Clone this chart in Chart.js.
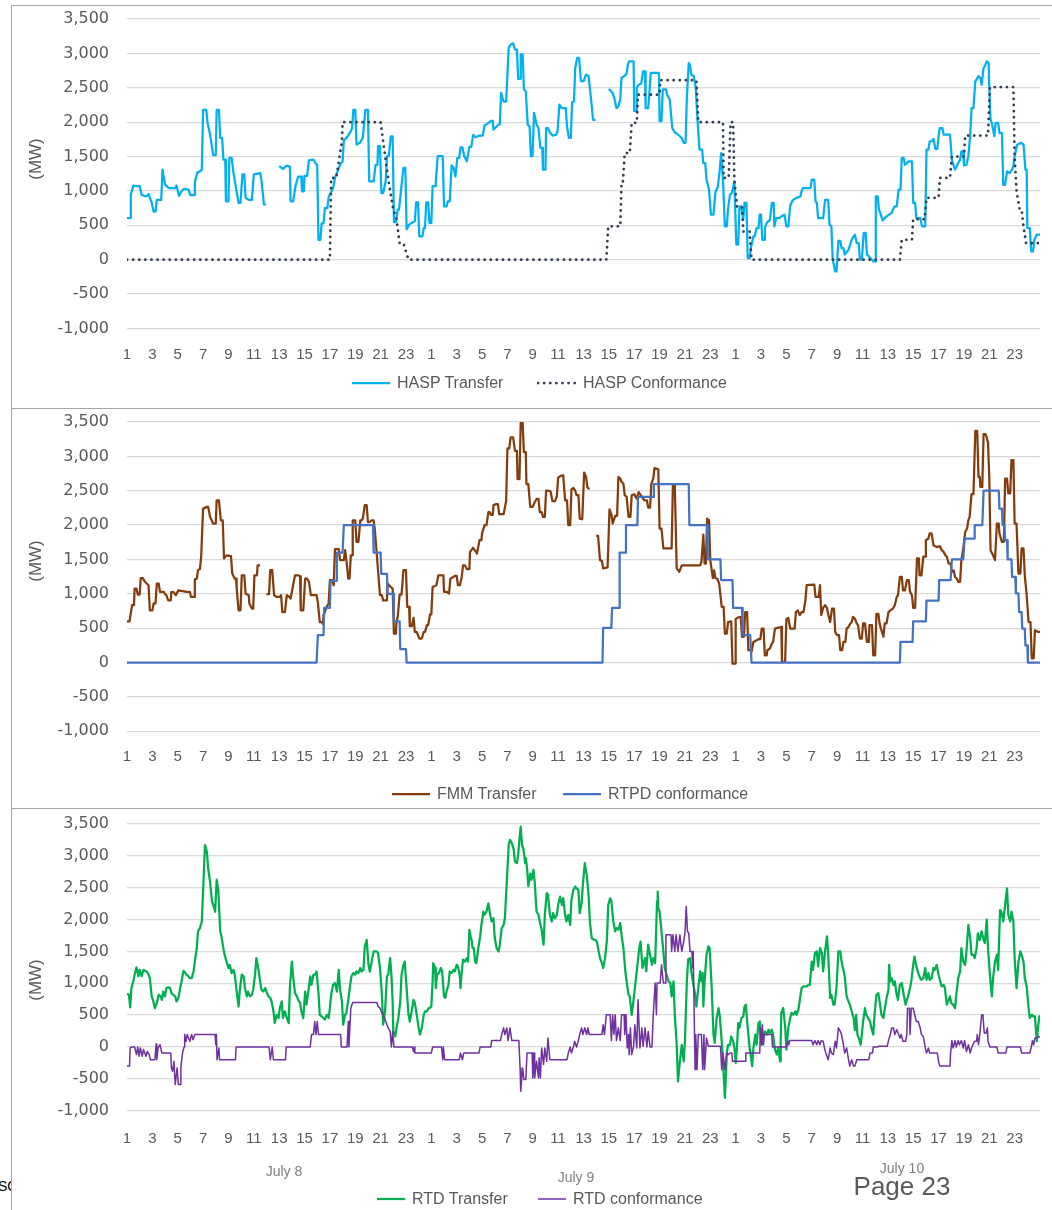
<!DOCTYPE html>
<html>
<head>
<meta charset="utf-8">
<script src="https://cdn.jsdelivr.net/npm/chart.js@4.4.1/dist/chart.umd.min.js"></script>
<style>
  html, body { margin: 0; padding: 0; background: #fff; }
  body { position: relative; width: 1052px; height: 1210px; overflow: hidden; font-family: "Liberation Sans", Arial, sans-serif; }
  .panel { position: absolute; left: 11px; width: 1100px; border: 1.5px solid #a6a6a6; background: #fff; box-sizing: border-box; z-index: 1; }
  canvas { position: absolute; left: 0; z-index: 2; }
  .ytitle { position: absolute; left: 36px; font-size: 17px; color: #595959; transform: translate(-50%, -50%) rotate(-90deg); z-index: 3; white-space: nowrap; }
  .txt { position: absolute; color: #7f7f7f; font-size: 14px; z-index: 3; white-space: nowrap; transform: translateX(-50%); }
  .key { position: absolute; z-index: 3; height: 20px; display: flex; align-items: center; white-space: nowrap; color: #595959; font-size: 16px; transform: translateY(-50%); }
  .key svg { margin-right: 6px; }
</style>
</head>
<body>
<div class="txt" style="top:1178px;color:#000;z-index:0;transform:none;left:-6px">ISO</div>
<div class="panel" style="top:5px;height:404px"></div>
<div class="panel" style="top:408px;height:401px"></div>
<div class="panel" style="top:808px;height:420px"></div>
<canvas id="hasp" width="1052" height="400" style="top:-10.7px"></canvas>
<canvas id="fmm" width="1052" height="400" style="top:391.7px"></canvas>
<canvas id="rtd" width="1052" height="400" style="top:794.3px"></canvas>
<div class="ytitle" style="top:159px">(MW)</div>
<div class="ytitle" style="top:561px">(MW)</div>
<div class="ytitle" style="top:980px">(MW)</div>
<div class="txt" id="d1" style="left:284px;top:1163px"></div>
<div class="txt" id="d2" style="left:576px;top:1169px"></div>
<div class="txt" id="d3" style="left:902px;top:1160px"></div>
<div class="txt" style="left:902px;top:1171px;font-size:26px;color:#595959">Page 23</div>
<div id="keys"></div>
<script>
// hour (0-72 across July 8-10), MW
const dayLabels = ['July 8', 'July 9', 'July 10'];

const haspTransfer = [[0,606],[0.25,606],[0.3,945],[0.5,1077],[0.75,1070],[1.0,1070],[1.15,945],[1.5,920],[1.7,955],[1.95,825],[2.1,700],[2.25,700],[2.35,870],[2.7,870],[2.8,1310],[3.0,1090],[3.3,1040],[3.8,1040],[3.9,1080],[4.1,930],[4.3,995],[4.5,1030],[4.85,1020],[5.0,940],[5.3,940],[5.35,1130],[5.55,1270],[5.75,1285],[5.9,1310],[6.0,2180],[6.25,2180],[6.35,1990],[6.55,1820],[6.8,1520],[7.0,1520],[7.07,2180],[7.25,2180],[7.35,1770],[7.5,1770],[7.6,1455],[7.75,1455],[7.8,850],[8.0,850],[8.07,1480],[8.25,1480],[8.4,1260],[8.6,1040],[8.8,825],[8.95,825],[9.1,1240],[9.25,1240],[9.35,900],[9.6,870],[9.85,870],[10.0,1240],[10.5,1260],[10.6,1165],[10.8,800],[10.95,800],[11.0,null],
  [12.0,1360],[12.3,1320],[12.6,1370],[12.85,1350],[12.9,850],[13.1,850],[13.3,1080],[13.5,1210],[13.75,1210],[13.8,995],[13.95,995],[14.0,1220],[14.2,1220],[14.35,1445],[14.7,1455],[14.9,1395],[15.0,1380],[15.1,290],[15.25,290],[15.35,530],[15.5,530],[15.6,750],[15.8,750],[15.9,910],[16.06,970],[16.25,1040],[16.4,1190],[16.7,1330],[16.85,1400],[17.0,1430],[17.1,1735],[17.3,1770],[17.6,1850],[17.75,1915],[17.85,2180],[18.0,2180],[18.1,1675],[18.4,1705],[18.6,1780],[18.8,2180],[19.0,2180],[19.1,1140],[19.45,1140],[19.6,1380],[19.75,1380],[19.8,1650],[19.95,1650],[20.06,970],[20.2,970],[20.4,1140],[20.5,1505],[20.65,1505],[20.8,1795],[20.95,1795],[21.05,545],[21.2,545],[21.35,730],[21.45,730],[21.6,995],[21.8,1335],[21.95,1335],[22.05,445],[22.25,510],[22.45,535],[22.7,560],[22.8,835],[22.95,835],[23.05,340],[23.3,340],[23.4,460],[23.5,460],[23.6,835],[23.75,835],[23.85,535],[24.0,535],
  [24.1,1070],[24.3,1070],[24.35,1125],[24.5,1505],[24.9,1505],[25.0,775],[25.2,775],[25.3,850],[25.45,850],[25.6,1370],[25.75,1340],[25.9,1210],[26.05,1480],[26.2,1480],[26.3,1635],[26.45,1635],[26.6,1505],[26.8,1430],[27.0,1640],[27.15,1640],[27.3,1815],[27.5,1780],[27.8,1805],[28.05,1805],[28.2,1955],[28.4,1975],[28.75,2020],[28.85,2020],[28.9,1890],[29.3,1965],[29.4,1965],[29.5,2425],[29.7,2300],[29.9,2300],[30.1,3080],[30.25,3130],[30.45,3145],[30.6,3055],[30.75,3055],[30.85,2630],[31.0,2630],[31.05,2985],[31.2,2985],[31.3,2475],[31.45,2450],[31.6,1965],[31.75,1940],[31.85,1505],[31.98,1505],[32.1,2135],[32.3,1965],[32.45,1915],[32.6,1625],[32.75,1625],[32.8,1310],[33.0,1310],[33.05,1915],[33.2,1915],[33.3,1865],[33.55,1805],[33.85,1820],[33.95,1865],[34.1,2255],[34.3,2205],[34.6,2205],[34.7,1940],[34.85,1770],[35.0,1770],[35.1,2290],[35.25,2300],[35.35,2790],[35.5,2935],[35.65,2935],[35.8,2595],[36.0,2595],[36.2,2690],[36.4,2670],[36.6,2330],[36.75,2035],[36.95,2035],[37.0,null],
  [38.0,2485],[38.3,2425],[38.45,2330],[38.6,2205],[38.75,2230],[38.9,2330],[39.0,2645],[39.2,2670],[39.4,2705],[39.5,2840],[39.6,2885],[39.95,2885],[40.0,2160],[40.15,2160],[40.2,2500],[40.35,2545],[40.55,2560],[40.7,2740],[40.85,2740],[40.9,2205],[41.1,2205],[41.2,2425],[41.3,2715],[41.95,2715],[42.0,2015],[42.15,2015],[42.25,2475],[42.5,2475],[42.6,2400],[42.8,2330],[43.0,1915],[43.2,1850],[43.35,1835],[43.6,1795],[43.75,1770],[43.9,1700],[44.05,1700],[44.15,2355],[44.3,2860],[44.4,2830],[44.5,2690],[44.7,2670],[44.85,2500],[45.0,2000],[45.15,1600],[45.35,1600],[45.45,1405],[45.6,1405],[45.7,1165],[45.9,1020],[46.05,655],[46.25,655],[46.4,980],[46.6,1065],[46.75,1310],[46.85,1550],[47.0,1165],[47.15,485],[47.3,485],[47.4,740],[47.55,945],[47.7,970],[47.9,1140],[48.05,220],[48.2,220],[48.3,775],[48.45,775],[48.6,580],[48.7,825],[48.85,825],[48.95,25],[49.1,25],[49.2,170],[49.4,340],[49.5,340],[49.65,460],[49.8,460],[49.9,655],[50.0,655],[50.1,290],[50.25,290],[50.3,460],[50.45,535],[50.7,580],[50.85,825],[51.0,825],[51.05,485],[51.2,605],[51.45,605],[51.6,630],[51.85,655],[52.0,485],[52.15,485],[52.3,785],[52.45,850],[52.55,870],[52.8,900],[53.1,920],[53.2,995],[53.3,1040],[53.9,1040],[54.0,1165],[54.2,1165],[54.3,850],[54.4,825],[54.5,605],[54.9,605],[55.05,870],[55.3,870],[55.4,510],[55.55,485],[55.65,10],[55.85,-170],[55.95,-170],[56.1,275],[56.25,275],[56.35,170],[56.5,170],[56.6,75],[56.9,145],[57.15,290],[57.3,340],[57.4,365],[57.55,240],[57.7,240],[57.8,0],[57.95,0],[58.1,390],[58.25,390],[58.35,75],[58.5,50],[58.6,25],[58.75,0],[58.85,-25],[59.0,-25],[59.05,920],[59.2,920],[59.3,730],[59.4,680],[59.6,570],[59.75,605],[59.9,630],[60.1,655],[60.3,680],[60.4,730],[60.55,775],[60.7,775],[60.85,1020],[61.0,1020],[61.1,1480],[61.25,1480],[61.35,1380],[61.5,1400],[61.6,1430],[61.9,1430],[62.0,825],[62.15,825],[62.25,605],[62.55,605],[62.7,485],[62.95,485],[63.05,1600],[63.2,1600],[63.3,1720],[63.45,1720],[63.6,1755],[63.75,1610],[63.9,1610],[64.0,1795],[64.1,1915],[64.3,1915],[64.4,1820],[64.9,1820],[65.05,1455],[65.2,1360],[65.3,1310],[65.45,1370],[65.55,1405],[65.7,1455],[65.8,1575],[65.95,1575],[66.0,1370],[66.2,1380],[66.35,1505],[66.5,1820],[66.6,2205],[66.75,2205],[66.9,2595],[67.0,2620],[67.15,2670],[67.3,2640],[67.4,2545],[67.55,2790],[67.65,2815],[67.8,2885],[67.95,2860],[68.0,2500],[68.1,2035],[68.2,1990],[68.4,1795],[68.5,1990],[68.7,1990],[68.8,1845],[69.0,1845],[69.1,1090],[69.25,1090],[69.4,1285],[69.6,1260],[69.8,1310],[69.9,1370],[70.0,1505],[70.2,1670],[70.5,1700],[70.7,1675],[70.85,1310],[70.95,1310],[71.0,460],[71.2,460],[71.3,120],[71.45,120],[71.55,290],[71.75,365],[72.0,365]];

const haspConformance = [[0,0],[16.0,0],[16.1,1190],[16.5,1190],[16.95,1720],[17.0,2000],[20.0,2000],[20.5,1310],[20.75,1000],[21.0,730],[21.25,600],[21.5,240],[21.8,240],[22.2,0],[37.8,0],[37.95,485],[38.9,485],[39.0,1115],[39.1,1115],[39.25,1550],[39.65,1550],[39.8,1990],[40.2,1990],[40.3,2400],[42.0,2400],[42.05,2610],[44.9,2610],[45.05,2000],[47.0,2000],[47.05,1190],[47.45,1190],[47.6,2000],[47.8,2000],[47.9,1165],[48.1,775],[48.5,775],[48.6,410],[49.1,410],[49.25,0],[60.95,0],[61.1,290],[61.9,290],[62.0,590],[62.9,590],[63.05,900],[64.0,900],[64.1,1190],[64.9,1190],[65.05,1500],[66.0,1500],[66.1,1805],[67.9,1805],[68.05,2510],[69.9,2510],[70.0,1505],[70.15,995],[70.4,730],[70.55,730],[70.7,485],[70.9,240],[72.0,240]];

const fmmTransfer = [[0,600],[0.2,600],[0.4,835],[0.55,835],[0.6,1075],[0.75,1075],[0.85,990],[1.0,990],[1.08,1230],[1.25,1230],[1.35,1190],[1.55,1150],[1.7,1125],[1.8,760],[2.0,760],[2.1,860],[2.25,860],[2.35,1150],[2.5,1150],[2.6,1030],[2.9,1030],[3.0,995],[3.1,980],[3.25,905],[3.45,905],[3.5,1030],[3.7,1020],[3.85,980],[4.05,1050],[4.7,1030],[4.95,1030],[5.05,955],[5.3,955],[5.35,1210],[5.5,1220],[5.6,1345],[5.75,1360],[5.85,1540],[6.0,2240],[6.3,2265],[6.4,2265],[6.55,2120],[6.8,2020],[7.0,2020],[7.07,2360],[7.25,2360],[7.4,2070],[7.55,2070],[7.65,1515],[7.85,1560],[8.2,1550],[8.3,1295],[8.5,1220],[8.6,1220],[8.65,1075],[8.8,760],[8.95,760],[9.05,1270],[9.25,1270],[9.35,1005],[9.6,980],[9.65,860],[9.85,785],[9.95,785],[10.05,1270],[10.25,1270],[10.3,1415],[10.5,1415],[10.75,null],
  [11.0,995],[11.2,995],[11.3,1345],[11.45,1345],[11.6,980],[11.8,955],[12.05,955],[12.15,980],[12.25,735],[12.45,735],[12.6,980],[12.8,955],[12.9,930],[13.05,1075],[13.25,1270],[13.5,1270],[13.65,1255],[13.7,760],[13.9,760],[14.05,1220],[14.2,1220],[14.35,1175],[14.5,980],[14.95,980],[15.05,880],[15.2,590],[15.35,590],[15.45,565],[15.5,690],[15.75,810],[15.9,860],[16.0,1200],[16.15,1200],[16.3,1125],[16.4,1650],[16.7,1650],[16.8,1490],[17.1,1490],[17.2,1635],[17.3,1490],[17.45,1220],[17.55,1220],[17.65,1560],[17.75,1560],[17.8,2070],[18.0,2070],[18.1,1755],[18.25,1755],[18.4,2070],[18.5,2070],[18.6,2095],[18.75,2290],[18.9,2290],[19.0,2045],[19.15,2045],[19.3,2070],[19.45,2070],[19.55,1925],[19.95,980],[20.1,980],[20.2,905],[20.5,905],[20.55,1150],[20.8,1100],[20.95,1075],[21.05,420],[21.2,420],[21.25,590],[21.35,665],[21.5,990],[21.65,990],[21.8,1345],[22.0,1345],[22.1,810],[22.25,810],[22.3,530],[22.45,530],[22.6,650],[22.7,445],[22.85,445],[23.05,350],[23.25,350],[23.4,445],[23.5,445],[23.65,545],[23.75,545],[23.9,700],[24.0,700],
  [24.1,1100],[24.4,1125],[24.55,1270],[24.95,1270],[25.0,1030],[25.2,1030],[25.4,1005],[25.5,1220],[25.7,1240],[25.85,1260],[26.0,1260],[26.1,1125],[26.25,1125],[26.4,1245],[26.5,1415],[26.65,1415],[26.8,1360],[27.0,1360],[27.05,1610],[27.3,1670],[27.45,1630],[27.6,1585],[27.8,1780],[27.95,1780],[28.0,1880],[28.2,2000],[28.35,2000],[28.5,2190],[28.6,2190],[28.7,2150],[28.85,2150],[28.9,2290],[29.1,2305],[29.25,2305],[29.35,2160],[29.7,2160],[29.9,2350],[30.0,3115],[30.15,3115],[30.25,3275],[30.45,3275],[30.6,3080],[30.75,3080],[30.8,2670],[30.95,2670],[31.05,3490],[31.2,3490],[31.3,3060],[31.45,3060],[31.5,2595],[31.65,2595],[31.8,2265],[32.0,2265],[32.1,2315],[32.3,2380],[32.45,2380],[32.55,2190],[32.7,2190],[32.8,2120],[32.95,2120],[33.05,2500],[33.2,2500],[33.4,2490],[33.55,2350],[33.75,2350],[33.9,2420],[34.0,2690],[34.2,2715],[34.4,2725],[34.55,2360],[34.7,2360],[34.8,2000],[34.95,2000],[35.05,2520],[35.2,2540],[35.35,2500],[35.45,2435],[35.6,2435],[35.7,2095],[35.9,2085],[36.05,2765],[36.2,2700],[36.3,2555],[36.45,2520],[36.6,null],
  [37.0,1845],[37.15,1845],[37.3,1490],[37.45,1480],[37.55,1370],[37.9,1385],[38.05,2230],[38.2,2155],[38.3,2020],[38.5,2135],[38.65,2135],[38.75,2700],[38.9,2675],[39.0,2630],[39.15,2600],[39.25,2435],[39.4,2410],[39.55,2120],[39.7,2120],[39.8,2435],[40.0,2450],[40.2,2385],[40.35,2480],[40.65,2400],[40.8,2360],[41.0,2360],[41.1,2255],[41.25,2255],[41.35,2600],[41.5,2675],[41.6,2830],[41.9,2810],[42.0,1950],[42.15,1950],[42.3,1660],[42.95,1660],[43.05,2580],[43.2,2580],[43.35,1370],[43.55,1320],[43.75,1415],[45.2,1415],[45.3,1465],[45.45,1860],[45.55,1440],[45.65,1440],[45.75,2095],[45.9,2070],[46.0,1490],[46.2,1230],[46.3,1340],[46.4,1230],[46.55,1220],[46.7,1150],[46.9,810],[47.05,810],[47.15,420],[47.3,420],[47.4,590],[47.65,600],[47.75,-15],[47.95,-15],
  [48.0,635],[48.25,660],[48.4,660],[48.5,375],[48.65,375],[48.75,735],[48.9,735],[49.0,180],[49.15,180],[49.25,155],[49.4,300],[49.8,340],[49.95,340],[50.05,495],[50.2,495],[50.3,105],[50.45,105],[50.5,180],[50.7,205],[50.85,275],[50.95,300],[51.1,495],[51.6,520],[51.65,10],[51.9,10],[52.0,630],[52.15,650],[52.3,495],[52.65,495],[52.75,735],[52.9,760],[53.05,690],[53.2,735],[53.35,735],[53.5,905],[53.6,1125],[54.2,1135],[54.3,955],[54.55,955],[54.65,1125],[54.75,690],[54.9,795],[55.05,835],[55.2,795],[55.3,700],[55.45,590],[55.6,785],[55.75,785],[55.85,445],[56.0,400],[56.15,400],[56.25,180],[56.4,180],[56.5,300],[56.65,300],[56.75,495],[56.9,520],[57.0,555],[57.15,590],[57.25,665],[57.4,640],[57.55,570],[57.65,545],[57.8,350],[57.95,350],[58.05,570],[58.2,570],[58.35,300],[58.5,300],[58.55,545],[58.75,545],[58.85,105],[59.0,105],[59.1,710],[59.25,710],[59.35,570],[59.45,495],[59.65,375],[59.75,570],[59.9,570],[60.05,735],[60.2,760],[60.4,785],[60.55,835],[60.7,955],[60.8,980],[60.95,1245],[61.1,1245],[61.2,1050],[61.35,1050],[61.5,1200],[61.65,1200],[61.75,1030],[61.9,980],[62.0,795],[62.15,795],[62.3,1515],[62.45,1515],[62.5,1270],[62.65,1270],[62.8,1540],[62.95,1540],[63.0,1780],[63.2,1805],[63.3,1880],[63.45,1880],[63.6,1705],[63.85,1680],[64.1,1695],[64.25,1635],[64.4,1610],[64.55,1560],[64.65,1540],[64.8,1440],[64.95,1440],[65.05,1320],[65.2,1340],[65.3,1245],[65.45,1220],[65.55,1175],[65.7,1175],[65.8,1490],[65.95,1660],[66.1,1900],[66.25,1950],[66.35,2070],[66.45,2120],[66.6,2450],[66.75,2450],[66.9,3370],[67.05,3370],[67.15,2700],[67.25,2700],[67.3,2555],[67.45,2555],[67.55,3325],[67.7,3325],[67.8,3275],[67.9,3200],[68.0,2690],[68.1,1635],[68.3,1560],[68.45,1490],[68.6,2020],[68.75,2020],[68.8,1880],[69.0,1755],[69.15,1755],[69.25,2675],[69.4,2675],[69.5,2460],[69.65,2460],[69.75,2945],[69.9,2945],[70.0,2020],[70.15,2020],[70.3,1295],[70.45,1295],[70.55,1660],[70.7,1660],[70.8,1270],[70.95,980],[71.1,590],[71.25,590],[71.35,60],[71.5,60],[71.6,470],[71.85,445],[72.0,445]];

const rtpdConformance = [[0,0],[14.95,0],[15.05,400],[15.5,400],[15.55,795],[16.0,795],[16.05,1190],[16.5,1190],[16.55,1600],[17.0,1600],[17.1,2000],[19.4,2000],[19.45,1600],[20.0,1600],[20.05,1290],[20.5,1290],[20.55,1000],[21.0,1000],[21.05,600],[21.5,600],[21.55,195],[22.0,195],[22.05,0],[37.5,0],[37.55,505],[38.2,505],[38.25,795],[38.8,795],[38.85,1600],[39.3,1600],[39.35,2000],[40.25,2000],[40.3,2410],[41.5,2410],[41.55,2595],[44.3,2595],[44.35,2000],[45.75,2000],[45.8,1500],[46.8,1500],[46.85,1200],[47.75,1200],[47.8,795],[48.5,795],[48.55,400],[49.15,400],[49.25,0],[60.95,0],[61.0,300],[61.95,300],[62.0,600],[63.0,600],[63.05,900],[64.0,900],[64.05,1200],[64.95,1200],[65.05,1500],[65.95,1500],[66.05,1805],[66.8,1805],[66.85,2000],[67.45,2000],[67.55,2500],[68.75,2500],[68.8,2240],[69.0,2240],[69.05,2000],[69.2,2000],[69.25,1780],[69.4,1780],[69.45,1500],[69.75,1500],[69.8,1245],[70.05,1245],[70.1,1005],[70.3,1005],[70.35,735],[70.55,735],[70.6,495],[70.8,495],[70.85,250],[71.0,250],[71.05,0],[72.0,0]];

const rtdTransfer = [[0,835],[0.15,820],[0.25,620],[0.35,925],[0.5,1030],[0.6,1135],[0.75,1250],[0.9,1110],[1.0,1210],[1.15,1110],[1.3,1210],[1.55,1185],[1.7,1135],[1.8,1080],[1.95,795],[2.05,740],[2.2,610],[2.35,690],[2.5,820],[2.65,795],[2.75,740],[2.85,870],[3.0,795],[3.1,925],[3.25,935],[3.4,925],[3.5,845],[3.65,820],[3.8,795],[3.9,715],[4.05,770],[4.2,925],[4.3,1030],[4.45,1195],[4.6,1160],[4.7,1135],[4.85,1110],[4.95,1080],[5.1,1080],[5.25,1185],[5.35,1340],[5.5,1550],[5.6,1815],[5.75,1865],[5.9,1970],[6.0,2440],[6.15,3170],[6.3,3065],[6.4,2805],[6.55,2595],[6.7,2285],[6.8,2230],[6.95,2125],[7.07,2625],[7.2,2465],[7.35,1815],[7.45,1735],[7.6,1550],[7.7,1445],[7.85,1340],[8.0,1240],[8.1,1290],[8.25,1160],[8.4,1210],[8.5,1135],[8.65,870],[8.8,635],[8.9,900],[9.05,1135],[9.2,1110],[9.3,925],[9.45,795],[9.55,870],[9.7,795],[9.85,820],[9.95,900],[10.1,1135],[10.2,1395],[10.35,1240],[10.5,1030],[10.6,900],[10.75,870],[10.9,925],[11.0,870],[11.15,795],[11.3,770],[11.4,715],[11.55,560],[11.65,375],[11.8,505],[11.95,455],[12.05,610],[12.2,715],[12.3,455],[12.45,560],[12.6,455],[12.75,375],[12.85,950],[13.0,1340],[13.1,1110],[13.25,845],[13.4,795],[13.5,740],[13.65,690],[13.75,560],[13.9,455],[14.05,870],[14.15,665],[14.3,870],[14.45,1110],[14.55,975],[14.7,1135],[14.85,1135],[14.95,1185],[15.1,845],[15.2,505],[15.35,480],[15.5,455],[15.6,430],[15.75,505],[15.9,455],[16.0,610],[16.1,820],[16.25,975],[16.4,1005],[16.55,870],[16.7,1210],[16.8,900],[16.95,715],[17.05,350],[17.2,505],[17.3,535],[17.45,740],[17.6,975],[17.7,1110],[17.85,1160],[18.0,1135],[18.1,1185],[18.25,1160],[18.4,1240],[18.5,1185],[18.65,1210],[18.75,1575],[18.9,1680],[19.05,1290],[19.15,1185],[19.3,1340],[19.45,1500],[19.7,1500],[19.8,1475],[19.95,1240],[20.1,820],[20.2,350],[20.35,560],[20.5,1110],[20.6,1135],[20.75,1395],[20.85,1135],[20.95,715],[21.0,245],[21.15,165],[21.25,300],[21.4,455],[21.55,715],[21.65,1135],[21.8,1290],[21.9,1340],[22.05,925],[22.2,505],[22.3,400],[22.45,560],[22.6,740],[22.7,690],[22.85,505],[23.0,300],[23.1,195],[23.25,300],[23.4,505],[23.5,560],[23.65,560],[23.75,600],[23.9,620],[24.0,635],
  [24.1,1030],[24.15,1315],[24.3,1240],[24.35,925],[24.45,1135],[24.6,1160],[24.75,1240],[24.85,1185],[25.0,795],[25.1,770],[25.2,870],[25.35,975],[25.45,1185],[25.6,1160],[25.75,1210],[25.85,1185],[26.0,1290],[26.1,1265],[26.25,1110],[26.3,925],[26.4,1185],[26.5,1370],[26.65,1340],[26.8,1395],[26.9,1340],[27.0,1840],[27.1,1735],[27.2,1655],[27.25,1550],[27.35,1550],[27.45,1340],[27.55,1315],[27.7,1550],[27.85,1735],[27.95,1915],[28.1,2125],[28.2,2075],[28.35,2125],[28.5,2255],[28.6,2125],[28.75,1970],[28.9,2020],[29.0,1710],[29.15,1550],[29.3,1500],[29.4,1605],[29.55,1865],[29.7,1915],[29.8,2020],[29.95,2595],[30.1,3170],[30.2,3250],[30.35,3200],[30.5,3095],[30.6,2910],[30.75,2885],[30.85,3020],[30.98,3330],[31.05,3460],[31.15,3170],[31.25,3120],[31.4,2885],[31.45,2965],[31.55,2805],[31.65,2520],[31.8,2720],[31.9,2625],[32.05,2780],[32.15,2595],[32.3,2125],[32.45,2075],[32.55,1970],[32.7,1840],[32.85,1605],[32.95,2075],[33.1,2415],[33.2,2390],[33.35,2075],[33.5,1970],[33.6,2100],[33.75,2020],[33.9,2075],[34.0,2230],[34.15,2360],[34.3,2230],[34.4,2335],[34.55,2075],[34.65,1970],[34.8,2075],[34.95,1915],[35.05,2310],[35.2,2465],[35.35,2520],[35.45,2490],[35.6,2465],[35.7,2100],[35.85,2255],[35.95,2545],[36.1,2885],[36.25,2705],[36.4,2390],[36.5,1970],[36.65,1710],[36.8,1685],[36.9,1685],[37.05,1655],[37.15,1550],[37.3,1395],[37.45,1315],[37.55,1240],[37.7,1395],[37.85,1685],[37.95,2230],[38.1,2335],[38.2,2285],[38.35,1970],[38.5,1815],[38.6,1865],[38.75,1840],[38.9,1945],[39.0,1760],[39.15,1550],[39.3,1185],[39.4,1030],[39.55,820],[39.65,795],[39.8,505],[39.95,740],[40.4,1550],[40.5,1655],[40.65,1240],[40.85,1395],[40.95,1185],[41.1,1605],[41.2,1500],[41.4,1290],[41.5,1395],[41.65,1315],[41.8,2285],[41.85,2440],[41.9,2180],[42.0,2125],[42.15,1815],[42.3,1500],[42.4,1240],[42.7,1030],[42.85,1005],[42.95,795],[43.1,1030],[43.2,505],[43.35,35],[43.45,-540],[43.6,-225],[43.75,35],[43.9,-225],[44.0,90],[44.15,1030],[44.25,1370],[44.4,1395],[44.5,1185],[44.8,820],[44.9,635],[45.05,925],[45.2,1185],[45.3,1030],[45.4,1160],[45.45,635],[45.55,1030],[45.7,1445],[45.85,1580],[45.95,1550],[46.1,975],[46.25,195],[46.35,65],[46.5,455],[46.65,610],[46.75,480],[46.9,90],[47.0,-225],[47.15,-800],[47.2,-590],[47.3,-95],[47.4,35],[47.55,35],[47.65,165],[47.8,90],[47.9,-15],
  [48.0,-250],[48.1,-15],[48.2,375],[48.3,300],[48.45,455],[48.6,480],[48.7,635],[48.8,665],[48.95,300],[49.1,-15],[49.2,-145],[49.3,-300],[49.4,-15],[49.55,195],[49.65,35],[49.8,375],[49.9,400],[49.95,195],[50.05,35],[50.2,195],[50.3,245],[50.45,195],[50.6,270],[50.7,220],[50.85,270],[50.95,195],[51.1,-40],[51.25,-120],[51.35,-15],[51.5,-225],[51.55,90],[51.6,535],[51.75,610],[51.9,325],[52.0,-40],[52.15,300],[52.3,455],[52.4,535],[52.55,505],[52.7,560],[52.8,505],[52.95,585],[53.1,795],[53.2,925],[53.35,950],[53.6,950],[53.75,975],[53.85,975],[54.0,1340],[54.1,1210],[54.25,1475],[54.4,1500],[54.5,1265],[54.65,1550],[54.8,1475],[54.9,1185],[55.05,1500],[55.2,1735],[55.3,1445],[55.45,770],[55.55,820],[55.7,665],[55.8,665],[55.95,925],[56.1,1500],[56.25,1500],[56.35,1340],[56.5,1210],[56.6,1110],[56.75,795],[56.85,740],[57.0,665],[57.15,560],[57.3,455],[57.4,270],[57.5,505],[57.6,195],[57.75,115],[57.85,35],[57.95,195],[58.05,400],[58.2,610],[58.3,505],[58.45,455],[58.6,400],[58.7,300],[58.85,195],[58.95,505],[59.1,820],[59.25,845],[59.35,715],[59.5,505],[59.65,455],[59.75,585],[59.9,770],[60.05,900],[60.1,1290],[60.2,1030],[60.3,1080],[60.45,975],[60.55,1030],[60.7,820],[60.8,740],[60.95,975],[61.1,1005],[61.25,820],[61.4,665],[61.5,740],[61.6,795],[61.75,925],[61.85,1030],[62.0,1290],[62.1,1420],[62.25,1265],[62.4,1160],[62.55,1080],[62.65,1055],[62.8,1080],[62.95,1240],[63.05,1055],[63.2,1160],[63.3,1055],[63.45,1080],[63.6,1240],[63.7,1210],[63.85,1290],[64.0,1135],[64.1,1055],[64.25,950],[64.4,975],[64.5,925],[64.65,665],[64.75,715],[64.9,795],[65.0,690],[65.15,665],[65.3,610],[65.4,820],[65.55,1080],[65.7,1185],[65.8,1550],[65.95,1340],[66.1,1290],[66.2,1500],[66.35,1915],[66.5,1710],[66.6,1445],[66.75,1445],[66.85,1395],[67.0,1550],[67.1,1785],[67.25,1680],[67.4,1815],[67.55,1680],[67.65,1630],[67.8,2000],[67.9,1550],[68.05,1135],[68.2,795],[68.3,1080],[68.45,1340],[68.6,1445],[68.7,1210],[68.85,2150],[68.95,2125],[69.1,1970],[69.25,2230],[69.4,2490],[69.5,2075],[69.65,1970],[69.75,2125],[69.9,1970],[70.0,1395],[70.15,925],[70.3,1340],[70.45,1500],[70.55,1445],[70.7,1340],[70.8,1080],[70.95,950],[71.1,610],[71.2,455],[71.35,505],[71.45,480],[71.6,480],[71.75,90],[71.85,325],[71.95,480],[72.0,480]];

const rtdConformance = [[0,-300],[0.2,-300],[0.25,-15],[0.35,0],[0.6,0],[0.75,-120],[0.85,0],[0.95,-145],[1.05,-15],[1.2,-145],[1.3,-40],[1.5,-145],[1.6,-70],[1.75,-120],[1.85,-200],[2.2,-200],[2.3,45],[2.35,-200],[2.45,-15],[2.6,35],[2.75,-95],[3.45,-95],[3.5,-330],[3.6,-380],[3.7,-225],[3.8,-590],[3.95,-330],[4.05,-590],[4.2,-590],[4.25,-330],[4.3,-225],[4.4,-70],[4.5,0],[4.55,195],[4.65,90],[4.75,195],[4.85,140],[4.95,90],[5.1,195],[5.2,115],[5.35,195],[6.95,195],[7.0,35],[7.05,195],[7.1,-200],[7.25,-15],[7.3,-200],[8.55,-200],[8.6,0],[11.2,0],[11.3,-200],[11.45,0],[11.55,-200],[12.5,-200],[12.55,0],[14.45,0],[14.55,195],[14.7,195],[14.8,400],[14.9,195],[15.0,400],[15.1,195],[16.85,195],[16.9,0],[17.35,0],[17.45,400],[17.5,0],[17.65,610],[17.8,700],[19.7,700],[19.8,640],[19.95,610],[20.05,560],[20.2,505],[20.35,430],[20.5,350],[20.6,300],[20.75,245],[20.85,0],[20.95,245],[21.05,0],[22.5,0],[22.6,-70],[22.65,0],[22.7,-95],[24.0,-95],
  [24.1,0],[24.8,0],[24.9,-200],[24.95,0],[25.05,-200],[26.2,-200],[26.3,-95],[26.45,-200],[26.55,-95],[27.75,-95],[27.85,0],[28.7,0],[28.75,100],[29.45,100],[29.55,195],[29.7,300],[29.8,195],[29.95,300],[30.05,100],[30.2,300],[30.35,100],[30.9,100],[31.0,-330],[31.05,-695],[31.2,-330],[31.3,-510],[31.45,-510],[31.55,-95],[31.95,-95],[32.0,-485],[32.1,-95],[32.15,-485],[32.3,-225],[32.45,-485],[32.5,-170],[32.6,-485],[32.7,-15],[32.85,-275],[32.95,-15],[33.1,-225],[33.2,140],[33.35,-200],[34.7,-200],[34.8,-95],[34.95,0],[35.05,-95],[35.2,0],[35.3,90],[35.45,0],[35.6,100],[35.7,195],[35.85,300],[35.95,195],[36.1,300],[36.25,195],[36.35,300],[36.45,195],[37.45,195],[37.55,350],[37.65,195],[37.8,505],[38.1,505],[38.2,100],[38.3,505],[38.4,195],[38.5,505],[38.6,100],[38.75,300],[38.9,100],[39.0,505],[39.2,505],[39.25,195],[39.35,505],[39.45,-15],[39.55,195],[39.6,-120],[39.7,300],[39.8,-120],[39.95,10],[40.05,350],[40.2,-15],[40.3,740],[40.45,-15],[40.6,300],[40.7,10],[40.85,300],[41.0,0],[41.1,245],[41.25,0],[41.4,0],[41.5,505],[41.65,1005],[41.75,505],[41.8,1005],[42.05,1005],[42.15,1290],[42.3,1005],[42.45,1005],[42.5,1760],[42.9,1760],[42.95,1500],[43.05,1760],[43.2,1500],[43.3,1760],[43.45,1500],[43.6,1760],[43.75,1500],[43.9,1655],[44.0,1785],[44.1,2205],[44.2,1815],[44.3,1785],[44.4,1500],[44.55,1500],[44.6,1240],[44.65,1500],[44.8,-355],[44.85,195],[44.95,-355],[45.05,195],[45.3,195],[45.4,-355],[45.5,195],[45.55,-355],[45.7,140],[45.85,10],[46.8,10],[46.9,-355],[47.0,-95],[47.15,-355],[47.3,-95],[47.4,-120],[47.55,-95],[47.7,-95],[47.75,-225],
  [48.75,-225],[48.8,-95],[49.9,-95],[49.95,300],[50.05,35],[50.1,350],[50.2,35],[50.25,195],[50.85,195],[50.9,0],[52.0,0],[52.1,90],[52.2,35],[52.25,100],[54.0,100],[54.1,35],[54.25,100],[54.4,35],[54.5,100],[54.65,35],[54.75,100],[54.9,90],[55.0,-15],[55.15,-120],[55.3,-200],[55.45,-15],[55.55,-95],[55.7,-120],[55.85,90],[55.95,-15],[56.1,300],[56.25,245],[56.35,195],[56.5,35],[56.6,-95],[56.75,-15],[56.9,-200],[57.0,-300],[57.15,-200],[57.3,-300],[57.4,-300],[57.55,-200],[58.5,-200],[58.6,-95],[58.8,-95],[58.85,0],[59.2,0],[59.25,10],[59.95,10],[60.05,100],[60.2,195],[60.3,300],[60.45,300],[60.55,195],[60.7,270],[60.85,195],[60.95,140],[61.05,195],[61.2,90],[61.4,90],[61.5,195],[61.55,610],[61.7,610],[61.75,195],[61.85,610],[62.0,610],[62.15,480],[62.25,400],[62.4,400],[62.55,300],[62.65,195],[62.8,165],[62.95,-15],[63.05,-95],[63.2,-15],[63.3,-95],[63.9,-95],[64.0,-225],[64.1,-300],[64.9,-300],[64.95,-95],[65.05,100],[65.15,-15],[65.3,100],[65.4,0],[65.55,100],[65.65,35],[65.8,100],[65.95,-15],[66.05,100],[66.2,-70],[66.35,35],[66.5,-95],[66.6,-15],[66.7,35],[66.85,90],[67.0,90],[67.05,195],[67.15,35],[67.25,195],[67.4,505],[67.5,505],[67.6,220],[67.75,220],[67.85,300],[67.9,90],[68.05,0],[68.6,0],[68.7,-95],[69.3,-95],[69.4,0],[70.45,0],[70.55,-95],[71.2,-95],[71.35,35],[71.4,100],[71.5,35],[71.6,140],[71.75,140],[71.85,165],[72.0,150]];

document.getElementById('d1').textContent = dayLabels[0];
document.getElementById('d2').textContent = dayLabels[1];
document.getElementById('d3').textContent = dayLabels[2];

const GREY = '#595959';
const toXY = arr => arr.map(([x, y]) => ({ x, y }));

function series(label, data, color, width, order, extra) {
  return Object.assign({
    label, data: toXY(data), borderColor: color, backgroundColor: color,
    borderWidth: width, pointRadius: 0, tension: 0, fill: false,
    borderJoinStyle: 'round', spanGaps: false, order
  }, extra || {});
}

function buildChart(id, datasets, o) {
  return new Chart(document.getElementById(id), {
    type: 'line',
    data: { datasets },
    options: {
      responsive: false, animation: false, devicePixelRatio: 1,
      layout: { padding: { left: 0, right: 12, top: 30, bottom: o.padBottom } },
      plugins: { tooltip: { enabled: false }, legend: { display: false } },
      scales: {
        x: {
          type: 'linear', min: 0, max: 72,
          grid: { display: false }, border: { display: false },
          ticks: {
            stepSize: 2, autoSkip: false, maxRotation: 0, padding: o.tickPad, color: GREY,
            font: { family: 'Liberation Sans', size: 15 },
            callback: v => (v >= 72 ? '' : String((v % 24) + 1))
          },
          afterFit: s => { s.height = 40; }
        },
        y: {
          min: -1000, max: 3500,
          grid: { color: '#d9d9d9', lineWidth: 1.3, drawTicks: false },
          border: { display: false },
          ticks: {
            stepSize: 500, padding: 18, color: GREY,
            font: { family: 'DejaVu Sans', size: 16 },
            callback: v => v.toLocaleString('en-US')
          },
          afterFit: s => { s.width = 127; }
        }
      }
    }
  });
}

// legend keys drawn as html, taken from each chart's datasets
function addKeys(chart, starts, y, len) {
  const host = document.getElementById('keys');
  chart.data.datasets.forEach((ds, i) => {
    const k = document.createElement('div');
    k.className = 'key';
    k.style.left = starts[i] + 'px';
    k.style.top = y + 'px';
    const dash = ds.borderDash ? ` stroke-dasharray="${ds.borderDash.join(' ')}" stroke-linecap="round"` : '';
    k.innerHTML = `<svg width="${len}" height="8"><line x1="1" y1="4" x2="${len - 1}" y2="4" stroke="${ds.borderColor}" stroke-width="${ds.borderWidth}"${dash}/></svg>`;
    k.appendChild(document.createTextNode(ds.label));
    host.appendChild(k);
  });
}

const haspChart = buildChart('hasp', [
  series('HASP Transfer', haspTransfer, '#00B0F0', 2.25, 2),
  series('HASP Conformance', haspConformance, '#333F50', 2.75, 1, { borderDash: [0.1, 6], borderCapStyle: 'round' })
], { padBottom: 20.5, tickPad: 9 });

const fmmChart = buildChart('fmm', [
  series('FMM Transfer', fmmTransfer, '#843C0C', 2.25, 2),
  series('RTPD conformance', rtpdConformance, '#4472C4', 2.25, 1)
], { padBottom: 20.7, tickPad: 9 });

const rtdChart = buildChart('rtd', [
  series('RTD Transfer', rtdTransfer, '#00B050', 2.25, 2),
  series('RTD conformance', rtdConformance, '#7030A0', 1.5, 1)
], { padBottom: 43.3, tickPad: 11 });

addKeys(haspChart, [351, 537], 383, 40);
addKeys(fmmChart, [391, 562], 794, 40);
addKeys(rtdChart, [376, 537], 1199, 30);
</script>
</body>
</html>
